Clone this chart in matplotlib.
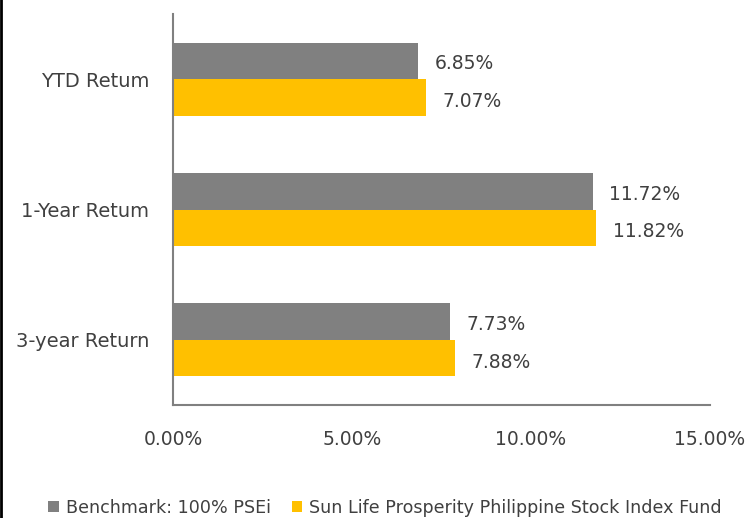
import numpy as np
import matplotlib.pyplot as plt
from matplotlib.lines import Line2D

plt.rcParams['font.family'] = ['DejaVu Sans']

categories = ['YTD Retum', '1-Year Retum', '3-year Return']
benchmark = [6.85, 11.72, 7.73]
fund = [7.07, 11.82, 7.88]
series_names = ['Benchmark: 100% PSEi', 'Sun Life Prosperity Philippine Stock Index Fund']
xticks = [0, 5, 10, 15]

text_col = '#404040'
gray = '#808080'
gold = '#FFC000'

fig = plt.figure(figsize=(7.48, 5.18), dpi=100)
ax = fig.add_axes([0.2313, 0.2181, 0.7179, 0.7549])

y = np.arange(len(categories))
h = 0.28
ax.barh(y - h / 2, benchmark, height=h, color=gray, label=series_names[0])
ax.barh(y + h / 2, fund, height=h, color=gold, label=series_names[1])

for yi, b, f in zip(y, benchmark, fund):
    ax.annotate(f'{b:.2f}%', (b, yi - h / 2), xytext=(12, -2), textcoords='offset points',
                va='center', ha='left', fontsize=13.5, color=text_col)
    ax.annotate(f'{f:.2f}%', (f, yi + h / 2), xytext=(12, -3), textcoords='offset points',
                va='center', ha='left', fontsize=13.5, color=text_col)

ax.set_xlim(0, 15)
ax.set_ylim(len(categories) - 0.5, -0.5)
ax.set_xticks(xticks)
ax.set_xticklabels([f'{t:.2f}%' for t in xticks])
ax.set_yticks(y)
ax.set_yticklabels(categories)
ax.tick_params(length=0, labelsize=13, labelcolor=text_col)
ax.tick_params(axis='y', labelsize=14, pad=17)
ax.tick_params(axis='x', labelsize=13.5, pad=18)
for s in ['top', 'right']:
    ax.spines[s].set_visible(False)
for s in ['left', 'bottom']:
    ax.spines[s].set_color(gray)
    ax.spines[s].set_linewidth(1.5)

fig.legend(loc='center', bbox_to_anchor=(0.515, 0.02), ncol=2, frameon=False,
           fontsize=12.6, labelcolor=text_col, handlelength=0.6, handleheight=0.6,
           handletextpad=0.4, columnspacing=1.2)

fig.add_artist(Line2D([0.002, 0.002], [0, 1], color='black', lw=2, transform=fig.transFigure))

fig.savefig('out.png', dpi=100)
